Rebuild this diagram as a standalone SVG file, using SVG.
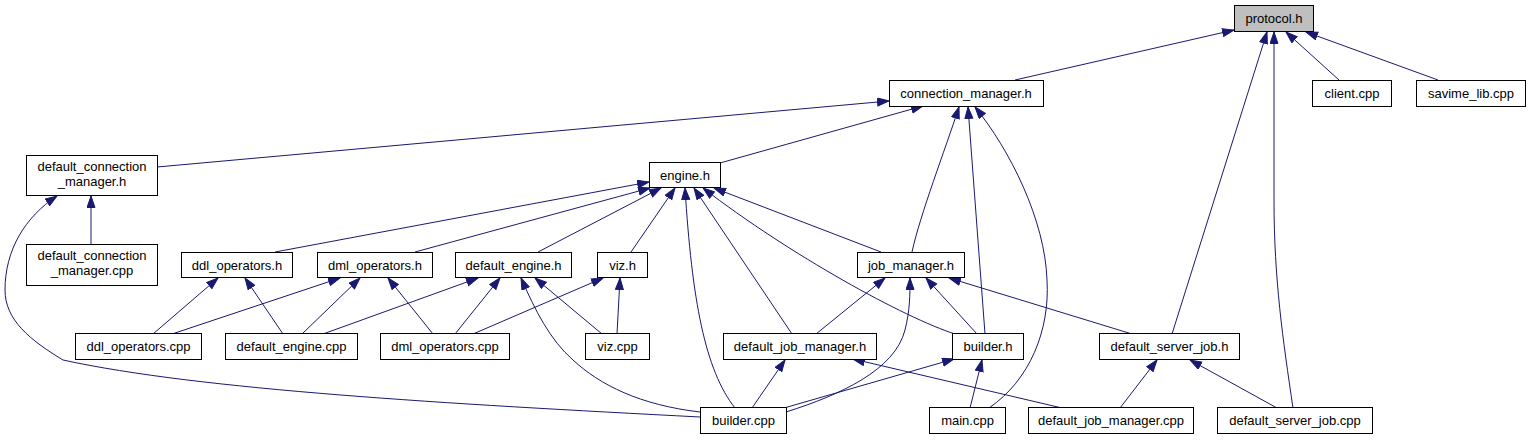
<svg xmlns="http://www.w3.org/2000/svg" width="1530" height="440" viewBox="0 0 1530 440">
<style>
.node rect{fill:#ffffff;stroke:#000000;stroke-width:1}
.node.root rect{fill:#bfbfbf}
.node text{font-family:"Liberation Sans",Arial,Helvetica,sans-serif;font-size:13px;fill:#000000;text-anchor:middle}
#edges path{fill:none;stroke:#191970;stroke-width:1;marker-end:url(#arrow)}
</style>
<defs>
<marker id="arrow" markerUnits="userSpaceOnUse" markerWidth="14" markerHeight="10" refX="12" refY="4.5" orient="auto" viewBox="0 0 14 10">
<path d="M0.5,0.5 L12,4.5 L0.5,8.5 z" fill="#191970" stroke="#191970" stroke-width="1"/>
</marker>
</defs>
<rect width="1530" height="440" fill="#ffffff"/>
<g id="edges">
<path d="M1015,80 L1234,30"/>
<path d="M1339,80 L1286,32"/>
<path d="M1438,80 L1306,32"/>
<path d="M1172,334 L1267,32"/>
<path d="M1293,408 C1283,340 1274,280 1274,200 L1274,32"/>
<path d="M157,167 L889,101"/>
<path d="M720,163 L923,106"/>
<path d="M912,252 C920,215 945,150 959,107"/>
<path d="M985,334 L968,107"/>
<path d="M989,408 C1030,380 1050,330 1047,280 C1045,220 1010,150 975,107"/>
<path d="M91,244 L91,196"/>
<path d="M700,417 C450,404 200,390 63,360 C30,340 5,320 5,290 C5,250 25,217 57,196"/>
<path d="M275,252 L649,182"/>
<path d="M415,252 L650,188"/>
<path d="M538,252 L661,188"/>
<path d="M631,252 L675,188"/>
<path d="M735,408 C705,370 692,300 685,188"/>
<path d="M792,334 L694,188"/>
<path d="M955,334 C905,318 790,255 703,188"/>
<path d="M881,252 L714,188"/>
<path d="M153,334 L218,278"/>
<path d="M283,334 L245,278"/>
<path d="M172,334 L340,278"/>
<path d="M302,334 L360,278"/>
<path d="M433,334 L388,278"/>
<path d="M323,334 L478,278"/>
<path d="M455,334 L500,278"/>
<path d="M700,412 C640,405 600,385 573,360 C550,340 535,310 521,278"/>
<path d="M602,334 L535,278"/>
<path d="M473,334 L603,278"/>
<path d="M617,334 L620,278"/>
<path d="M816,334 L885,278"/>
<path d="M786,412 C840,395 895,370 905,330 C910,310 910,295 910,278"/>
<path d="M977,334 L926,278"/>
<path d="M1132,334 L949,278"/>
<path d="M752,408 L785,360"/>
<path d="M1062,408 L853,359"/>
<path d="M784,408 L954,359"/>
<path d="M970,408 L982,360"/>
<path d="M1120,408 L1157,360"/>
<path d="M1277,408 L1190,360"/>
</g>
<g id="n_protocol_h" class="node root"><rect x="1234.5" y="5.5" width="79" height="26"/><text x="1274" y="23">protocol.h</text></g>
<g id="n_connection_manager_h" class="node"><rect x="889.5" y="80.5" width="154" height="26"/><text x="966" y="98">connection_manager.h</text></g>
<g id="n_client_cpp" class="node"><rect x="1312.5" y="80.5" width="79" height="26"/><text x="1352" y="98">client.cpp</text></g>
<g id="n_savime_lib_cpp" class="node"><rect x="1416.5" y="80.5" width="109" height="26"/><text x="1471" y="98">savime_lib.cpp</text></g>
<g id="n_default_connection_manager_h" class="node"><rect x="26.5" y="155.5" width="131" height="40"/><text x="92" y="171">default_connection</text><text x="92" y="186">_manager.h</text></g>
<g id="n_engine_h" class="node"><rect x="649.5" y="162.5" width="71" height="25"/><text x="685" y="180">engine.h</text></g>
<g id="n_default_connection_manager_cpp" class="node"><rect x="26.5" y="244.5" width="131" height="41"/><text x="92" y="260">default_connection</text><text x="92" y="275">_manager.cpp</text></g>
<g id="n_ddl_operators_h" class="node"><rect x="181.5" y="252.5" width="111" height="25"/><text x="237" y="270">ddl_operators.h</text></g>
<g id="n_dml_operators_h" class="node"><rect x="317.5" y="252.5" width="115" height="25"/><text x="375" y="270">dml_operators.h</text></g>
<g id="n_default_engine_h" class="node"><rect x="455.5" y="252.5" width="116" height="25"/><text x="513.5" y="270">default_engine.h</text></g>
<g id="n_viz_h" class="node"><rect x="597.5" y="252.5" width="50" height="25"/><text x="622.5" y="270">viz.h</text></g>
<g id="n_job_manager_h" class="node"><rect x="857.5" y="252.5" width="107" height="25"/><text x="911" y="270">job_manager.h</text></g>
<g id="n_ddl_operators_cpp" class="node"><rect x="75.5" y="333.5" width="126" height="26"/><text x="138.5" y="351">ddl_operators.cpp</text></g>
<g id="n_default_engine_cpp" class="node"><rect x="225.5" y="333.5" width="132" height="26"/><text x="291.5" y="351">default_engine.cpp</text></g>
<g id="n_dml_operators_cpp" class="node"><rect x="380.5" y="333.5" width="129" height="26"/><text x="445" y="351">dml_operators.cpp</text></g>
<g id="n_viz_cpp" class="node"><rect x="585.5" y="333.5" width="64" height="26"/><text x="617.5" y="351">viz.cpp</text></g>
<g id="n_default_job_manager_h" class="node"><rect x="723.5" y="333.5" width="153" height="26"/><text x="800" y="351">default_job_manager.h</text></g>
<g id="n_builder_h" class="node"><rect x="952.5" y="333.5" width="71" height="26"/><text x="988" y="351">builder.h</text></g>
<g id="n_default_server_job_h" class="node"><rect x="1099.5" y="333.5" width="140" height="26"/><text x="1169.5" y="351">default_server_job.h</text></g>
<g id="n_builder_cpp" class="node"><rect x="700.5" y="407.5" width="86" height="26"/><text x="743.5" y="425">builder.cpp</text></g>
<g id="n_main_cpp" class="node"><rect x="929.5" y="407.5" width="76" height="26"/><text x="967.5" y="425">main.cpp</text></g>
<g id="n_default_job_manager_cpp" class="node"><rect x="1028.5" y="407.5" width="165" height="26"/><text x="1111" y="425">default_job_manager.cpp</text></g>
<g id="n_default_server_job_cpp" class="node"><rect x="1217.5" y="407.5" width="155" height="26"/><text x="1295" y="425">default_server_job.cpp</text></g>
</svg>
